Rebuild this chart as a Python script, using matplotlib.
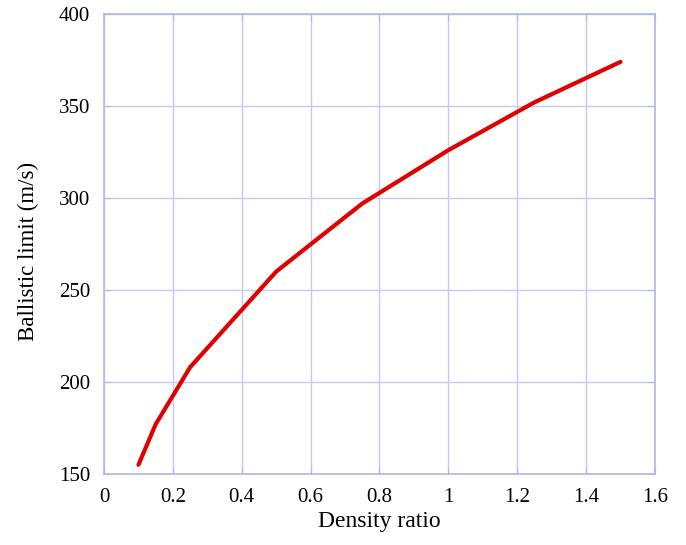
import matplotlib
matplotlib.use("Agg")
import matplotlib.pyplot as plt

density_ratio = [0.1, 0.15, 0.25, 0.5, 0.75, 1.0, 1.25, 1.5]
ballistic_limit = [155, 177, 208, 260, 297, 326, 352, 374]

x_ticks = [0, 0.2, 0.4, 0.6, 0.8, 1, 1.2, 1.4, 1.6]
x_tick_labels = ["0", "0.2", "0.4", "0.6", "0.8", "1", "1.2", "1.4", "1.6"]
y_ticks = [150, 200, 250, 300, 350, 400]

plt.rcParams['font.family'] = ['Liberation Serif', 'DejaVu Serif']

fig = plt.figure(figsize=(6.86, 5.45), dpi=100)
ax = fig.add_axes([0.1516, 0.1303, 0.8032, 0.8440])

grid_color = '#c8c8f8'
ax.plot(density_ratio, ballistic_limit, color='#e00000', linewidth=3.0,
        solid_capstyle='round', zorder=3)

ax.set_xlim(0, 1.6)
ax.set_ylim(150, 400)
ax.set_xticks(x_ticks)
ax.set_xticklabels(x_tick_labels)
ax.set_yticks(y_ticks)
ax.grid(True, color=grid_color, linewidth=1.0)
for s in ax.spines.values():
    s.set_color('#b4b4f0')
    s.set_linewidth(1.2)
ax.tick_params(direction='in', length=5, color='#b4b4f0', labelsize=15,
               pad=10, right=True, top=True)

ax.set_xlabel('Density ratio', fontsize=17, labelpad=3)
ax.set_ylabel('Ballistic limit (m/s)', fontsize=16.5)
ax.yaxis.set_label_coords(-0.118, 0.483)

fig.savefig('out.png', dpi=100)
